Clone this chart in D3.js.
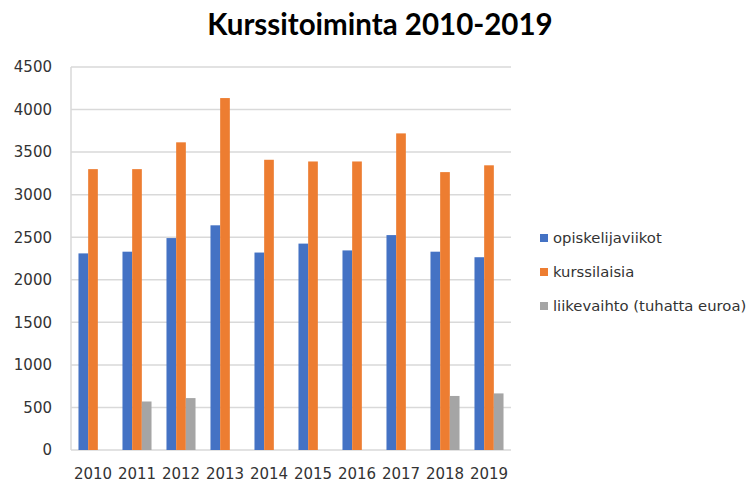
<!DOCTYPE html>
<html>
<head>
<meta charset="utf-8">
<script src="https://d3js.org/d3.v7.min.js"></script>
<style>
  body { margin: 0; background: #fff; }
  text { font-family: "DejaVu Sans", sans-serif; fill: #333; }
  .title { font-family: Lato, sans-serif; font-weight: 700; fill: #000; }
</style>
</head>
<body>
<svg id="chart" width="751" height="482"></svg>
<script>
// data
const years = ["2010", "2011", "2012", "2013", "2014", "2015", "2016", "2017", "2018", "2019"];
const seriesNames = ["opiskelijaviikot", "kurssilaisia", "liikevaihto (tuhatta euroa)"];
const opiskelijaviikot = [2310, 2330, 2490, 2640, 2320, 2425, 2345, 2525, 2330, 2265];
const kurssilaisia = [3300, 3300, 3615, 4135, 3410, 3390, 3390, 3720, 3265, 3345];
const liikevaihto = [null, 570, 610, null, null, null, null, null, 635, 665];
const yTicks = [0, 500, 1000, 1500, 2000, 2500, 3000, 3500, 4000, 4500];
const colors = ["#4472c4", "#ed7d31", "#a5a5a5"];

const seriesValues = [opiskelijaviikot, kurssilaisia, liikevaihto];

const svg = d3.select("#chart");
const plotLeft = 71, plotRight = 511, plotTop = 67, plotBottom = 450;

const x = d3.scaleBand().domain(years).range([plotLeft, plotRight]).paddingInner(0.34).paddingOuter(0.17);
const xs = d3.scaleBand().domain(seriesNames).range([0, x.bandwidth()]);
const y = d3.scaleLinear().domain([0, 4500]).range([plotBottom, plotTop]);

// title
svg.append("text")
    .attr("class", "title")
    .attr("x", 380)
    .attr("y", 35)
    .attr("text-anchor", "middle")
    .style("font-size", "29.5px")
    .text("Kurssitoiminta 2010-2019");

// gridlines
svg.append("g")
    .selectAll("line")
    .data(yTicks)
    .join("line")
    .attr("x1", plotLeft)
    .attr("x2", plotRight)
    .attr("y1", d => y(d))
    .attr("y2", d => y(d))
    .attr("stroke", "#d9d9d9")
    .attr("stroke-width", 1.5);

svg.append("line")
    .attr("x1", plotLeft).attr("x2", plotLeft)
    .attr("y1", plotTop).attr("y2", plotBottom)
    .attr("stroke", "#d9d9d9")
    .attr("stroke-width", 1.5);

// y axis labels
const yAxis = svg.append("g")
    .attr("transform", "translate(" + plotLeft + ",0)")
    .call(d3.axisLeft(y).tickValues(yTicks).tickFormat(d3.format("d")).tickSize(0).tickPadding(19));
yAxis.select(".domain").remove();
yAxis.selectAll("text").style("font-size", "15px").attr("fill", "#333");

// x axis labels
const xAxis = svg.append("g")
    .attr("transform", "translate(0," + plotBottom + ")")
    .call(d3.axisBottom(x).tickSize(0).tickPadding(18));
xAxis.select(".domain").remove();
xAxis.selectAll("text").style("font-size", "15px").attr("fill", "#333");

// bars
seriesValues.forEach((vals, i) => {
    svg.append("g")
        .selectAll("rect")
        .data(years.map((yr, j) => ({ year: yr, value: vals[j] })).filter(d => d.value != null))
        .join("rect")
        .attr("x", d => x(d.year) + xs(seriesNames[i]))
        .attr("y", d => y(d.value))
        .attr("width", xs.bandwidth())
        .attr("height", d => plotBottom - y(d.value))
        .attr("fill", colors[i]);
});

// legend
const legend = svg.append("g")
    .selectAll("g")
    .data(seriesNames)
    .join("g")
    .attr("transform", (d, i) => "translate(540," + [238, 272, 306][i] + ")");

legend.append("rect")
    .attr("x", 0)
    .attr("y", -4)
    .attr("width", 8)
    .attr("height", 8)
    .attr("fill", (d, i) => colors[i]);

legend.append("text")
    .attr("x", 13)
    .attr("dy", "0.35em")
    .style("font-size", "14.8px")
    .attr("fill", "#333")
    .text(d => d);
</script>
</body>
</html>
